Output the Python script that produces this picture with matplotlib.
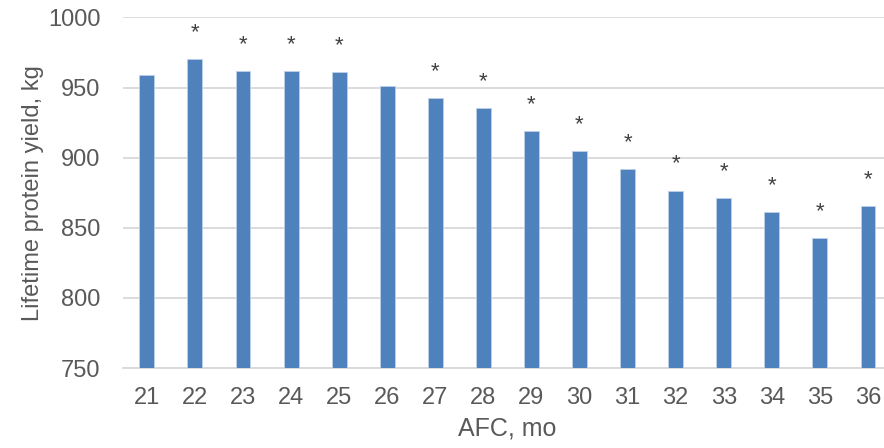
import numpy as np
import matplotlib.pyplot as plt

# Podaci
afc = ["21", "22", "23", "24", "25", "26", "27", "28",
       "29", "30", "31", "32", "33", "34", "35", "36"]
protein = [958.7, 970.1, 961.6, 961.8, 961.1, 951.3, 942.7, 935.6,
           919.1, 904.6, 891.6, 876.6, 871.1, 861.4, 842.5, 865.6]
oznake = ["", "*", "*", "*", "*", "", "*", "*",
          "*", "*", "*", "*", "*", "*", "*", "*"]

plt.rcParams["font.family"] = ["Liberation Sans", "DejaVu Sans"]
tekst = "#595959"
mreza = "#D9D9D9"

fig = plt.figure(figsize=(8.84, 4.48), dpi=100)
ax = fig.add_axes([122.8 / 884, 80 / 448, (892 - 122.8) / 884, 350.5 / 448])

x = np.arange(len(afc))
ax.bar(x, protein, width=0.31, color="#4F81BD", edgecolor="#BDD0EA",
       linewidth=0.6, bottom=0, zorder=3)

for xi, v, o in zip(x, protein, oznake):
    if o:
        ax.annotate(o, (xi, v), xytext=(0, 21), textcoords="offset pixels",
                    ha="center", va="baseline", fontsize=16, color="#404040")

ax.set_ylim(750, 1000)
ax.set_xlim(-0.5, len(afc) - 0.5)
ax.set_yticks([750, 800, 850, 900, 950, 1000])
ax.set_xticks(x)
ax.set_xticklabels(afc)
ax.grid(axis="y", color=mreza, linewidth=1.3, zorder=0)
for s in ["left", "right", "top"]:
    ax.spines[s].set_visible(False)
ax.spines["bottom"].set_color(mreza)
ax.spines["bottom"].set_linewidth(1.3)
ax.tick_params(axis="y", length=0, pad=16, labelsize=17, labelcolor=tekst)
ax.tick_params(axis="x", length=0, pad=14, labelsize=17, labelcolor=tekst)

ax.set_xlabel("AFC, mo", fontsize=18, color=tekst, labelpad=5)
ax.set_ylabel("Lifetime protein yield, kg", fontsize=17, color=tekst, labelpad=3)

fig.savefig("out.png", dpi=100)
